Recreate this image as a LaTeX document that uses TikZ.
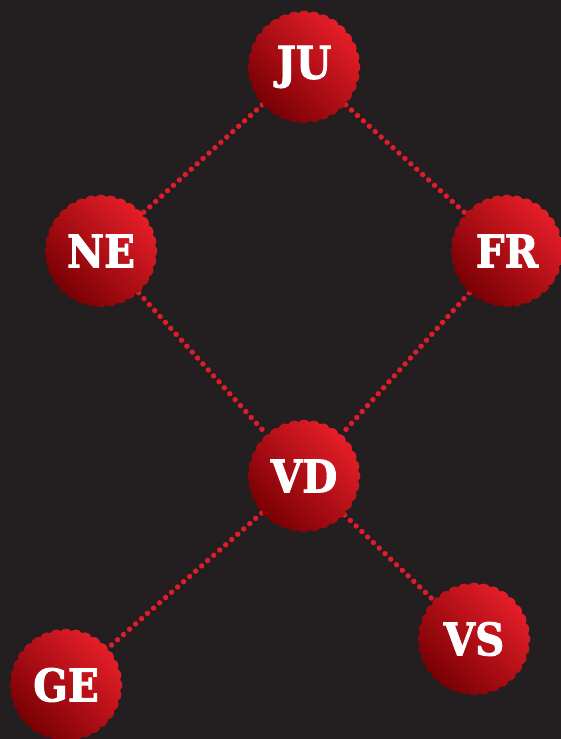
\documentclass[tikz,border=0pt]{standalone}
\usepackage{fontspec}
\newfontfamily\slabfont{DejaVu Serif Condensed Bold}[FakeBold=2]
\pgfdeclarelayer{background}
\pgfdeclarelayer{middle}
\pgfsetlayers{background,middle,main}
\definecolor{bgc}{HTML}{231F20}
\definecolor{brightred}{HTML}{E61E28}
\definecolor{darkred}{HTML}{780004}
\definecolor{dotred}{HTML}{E01B2A}
\tikzset{
  hub/.style={circle, minimum size=112pt, inner sep=0pt, text=white,
    font=\slabfont\fontsize{45}{45}\selectfont},
  link/.style={draw=dotred, line width=5.4pt, line cap=round,
    dash pattern=on 0pt off 8pt},
  seal/.style={top color=brightred, bottom color=darkred, shading angle=-45}
}
\newcommand\sealat[1]{%
  \path[seal] (#1) circle (49.5pt)
    \foreach \a in {0,11.25,...,349} {(#1) ++(\a:49.5pt) circle (6.8pt)};}
\begin{document}
\begin{tikzpicture}
\useasboundingbox (0,0) rectangle (561pt,739pt);
\node[hub] (JU) at (304pt,672pt) {JU};
\node[hub] (NE) at (101pt,488pt) {NE};
\node[hub] (FR) at (507pt,488pt) {FR};
\node[hub] (VD) at (304pt,263pt) {VD};
\node[hub] (VS) at (474pt,100pt) {VS};
\node[hub] (GE) at (66pt,54pt) {GE};
\begin{pgfonlayer}{background}
\fill[bgc] (0,0) rectangle (561pt,739pt);
\draw[link] (JU) -- (NE);
\draw[link] (JU) -- (FR);
\draw[link] (NE) -- (VD);
\draw[link] (FR) -- (VD);
\draw[link] (VD) -- (GE);
\draw[link] (VD) -- (VS);
\end{pgfonlayer}
\begin{pgfonlayer}{middle}
\sealat{JU}\sealat{NE}\sealat{FR}\sealat{VD}\sealat{VS}\sealat{GE}
\end{pgfonlayer}
\end{tikzpicture}
\end{document}
